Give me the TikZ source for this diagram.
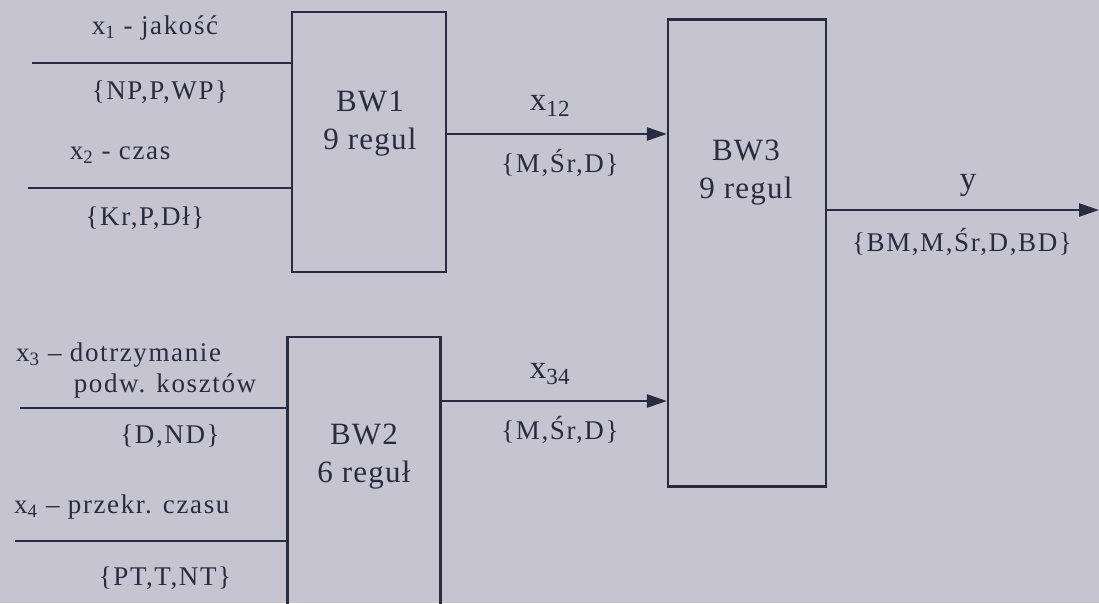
\documentclass[tikz,border=0pt]{standalone}
\usepackage{fontspec}
\setmainfont{Liberation Serif}
\usetikzlibrary{arrows.meta,calc}
\definecolor{bg}{RGB}{198,196,208}
\definecolor{ink}{RGB}{40,44,64}
\tikzset{
  blk/.style={draw=ink, line width=2.2pt, inner sep=0pt},
  wire/.style={draw=ink, line width=2.4pt},
  arr/.style={wire, -{Triangle[length=20pt,width=13pt]}},
  lbl/.style={text=ink, inner sep=0pt, font=\fontsize{27}{30}\selectfont\addfontfeature{LetterSpace=6}},
  blbl/.style={text=ink, inner sep=0pt, align=center, font=\fontsize{31}{38}\selectfont\addfontfeature{LetterSpace=4}},
  vlbl/.style={text=ink, inner sep=0pt, font=\fontsize{33}{36}\selectfont},
}
\begin{document}
\begin{tikzpicture}[x=1pt,y=-1pt]
\fill[bg] (0,0) rectangle (1099,603);
\useasboundingbox (0,0) rectangle (1099,603);
\clip (0,0) rectangle (1099,603);
% blocks
\node[blk, minimum width=154pt, minimum height=260pt] (bw1) at (369,142) {};
\node[blk, minimum width=153pt, minimum height=276pt] (bw2) at (364,475) {};
\node[blk, minimum width=158pt, minimum height=467pt] (bw3) at (747,253) {};
\node[blbl] (t1) at (370,124) {BW1\\9 regul};
\node[blbl] (t2) at (364,457) {BW2\\6 reguł};
\node[blbl] (t3) at (746,173) {BW3\\9 regul};
% inputs
\coordinate (i1) at (32,63);
\coordinate (i2) at (28,188);
\coordinate (i3) at (20,408);
\coordinate (i4) at (15,541);
\draw[wire] (i1) -- (i1 -| bw1.west);
\draw[wire] (i2) -- (i2 -| bw1.west);
\draw[wire] (i3) -- (i3 -| bw2.west);
\draw[wire] (i4) -- (i4 -| bw2.west);
\node[lbl] (l1) at (155,28) {x\textsubscript{1} - jakość};
\node[lbl] (l2) at (160,92) {\{NP,P,WP\}};
\node[lbl] (l3) at (120,155) {x\textsubscript{2} - czas};
\node[lbl] (l4) at (145,218) {\{Kr,P,Dł\}};
\node[lbl, anchor=west] (l5) at (16,355) {x\textsubscript{3} – dotrzymanie};
\node[lbl] (l6) at (165,386) {podw. kosztów};
\node[lbl] (l7) at (170,436) {\{D,ND\}};
\node[lbl, anchor=west] (l8) at (14,507) {x\textsubscript{4} – przekr. czasu};
\node[lbl] (l9) at (165,578) {\{PT,T,NT\}};
% connectors
\coordinate (a1) at (0,134);
\coordinate (a2) at (0,401);
\coordinate (a3) at (0,210);
\coordinate (out) at (1099,210);
\draw[arr] (bw1.east |- a1) -- (bw3.west |- a1);
\draw[arr] (bw2.east |- a2) -- (bw3.west |- a2);
\draw[arr] (bw3.east |- a3) -- (out);
\node[vlbl] (v1) at (550,106) {x\textsubscript{12}};
\node[lbl] (s1) at (560,163) {\{M,Śr,D\}};
\node[vlbl] (v2) at (550,374) {x\textsubscript{34}};
\node[lbl] (s2) at (560,430) {\{M,Śr,D\}};
\node[vlbl] (v3) at (968,185) {y};
\node[lbl] (s3) at (962,242) {\{BM,M,Śr,D,BD\}};
\end{tikzpicture}
\end{document}
